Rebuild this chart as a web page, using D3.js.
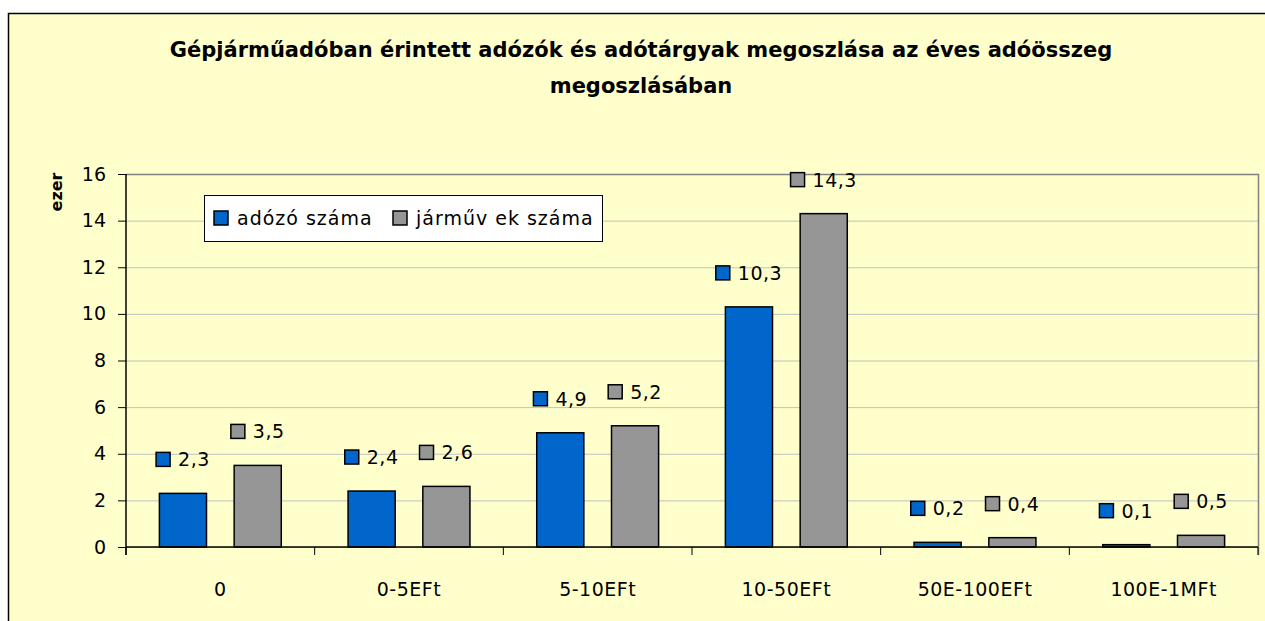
<!DOCTYPE html>
<html>
<head>
<meta charset="utf-8">
<script src="https://cdn.jsdelivr.net/npm/d3@7"></script>
<style>
  html, body { margin: 0; background: #fff; overflow: hidden; }
  svg { display: block; }
  svg text { font-family: "DejaVu Sans", sans-serif; fill: #000; }
</style>
</head>
<body>
<div id="chart"></div>
<script>
////////////////////////////////////////////////////////////
//////////////////////// Data //////////////////////////////
////////////////////////////////////////////////////////////
var categories = ["0", "0-5EFt", "5-10EFt", "10-50EFt", "50E-100EFt", "100E-1MFt"];
var seriesNames = ["adózó száma", "járműv ek száma"];
var adozoSzama = [2.3, 2.4, 4.9, 10.3, 0.2, 0.1];
var jarmuvekSzama = [3.5, 2.6, 5.2, 14.3, 0.4, 0.5];
var yTicks = [0, 2, 4, 6, 8, 10, 12, 14, 16];
var seriesColors = ["#0066CC", "#969696"];

var titleLines = ["Gépjárműadóban érintett adózók és adótárgyak megoszlása az éves adóösszeg", "megoszlásában"];

////////////////////////////////////////////////////////////
//////////////////////// SVG ///////////////////////////////
////////////////////////////////////////////////////////////
var W = 1265, H = 621;
var plot = { left: 126, right: 1258, top: 174, bottom: 547 };

var svg = d3.select("#chart").append("svg")
  .attr("width", W).attr("height", H);

//outer chart area (only top and left edges are visible)
svg.append("rect")
  .attr("x", 8.5).attr("y", 13.5)
  .attr("width", W).attr("height", H)
  .style("fill", "#FFFFCC");
svg.append("path")
  .attr("d", "M8.5," + H + "V13.5H" + W)
  .style("fill", "none")
  .style("stroke", "#000").style("stroke-width", 1.5);

//title
svg.selectAll(".title")
  .data(titleLines)
  .enter().append("text")
  .attr("class", "title")
  .attr("x", 641)
  .attr("y", function(d, i) { return 57 + i * 36; })
  .attr("text-anchor", "middle")
  .style("font-weight", "bold")
  .style("font-size", "21px")
  .text(function(d) { return d; });

////////////////////////////////////////////////////////////
//////////////////////// Scales ////////////////////////////
////////////////////////////////////////////////////////////
var x0 = d3.scaleBand()
  .domain(categories)
  .range([plot.left, plot.right]);

var bw = x0.bandwidth();
var x1 = d3.scaleBand()
  .domain(seriesNames)
  .range([0.177 * bw, 0.823 * bw])
  .paddingInner(0.37);

var y = d3.scaleLinear()
  .domain([0, 16])
  .range([plot.bottom, plot.top]);

var color = d3.scaleOrdinal().domain(seriesNames).range(seriesColors);

var huFormat = d3.formatLocale({ decimal: ",", thousands: " ", grouping: [3], currency: ["", " Ft"] }).format(".1f");

////////////////////////////////////////////////////////////
//////////////////////// Grid & axes ///////////////////////
////////////////////////////////////////////////////////////
svg.append("g")
  .attr("class", "grid")
  .attr("transform", "translate(" + plot.left + ",0)")
  .call(d3.axisLeft(y).tickValues(yTicks).tickSize(-(plot.right - plot.left)).tickFormat(""))
  .call(function(g) {
    g.select(".domain").remove();
    g.selectAll("line").style("stroke", "#C0C0C0").style("stroke-width", 1);
  });

//plot border (top and right)
svg.append("path")
  .attr("d", "M" + plot.left + "," + (plot.top + 0.5) + "H" + (plot.right + 0.5) + "V" + (plot.bottom + 8))
  .style("fill", "none")
  .style("stroke", "#808080")
  .style("stroke-width", 1.5);

////////////////////////////////////////////////////////////
//////////////////////// Bars //////////////////////////////
////////////////////////////////////////////////////////////
var rows = categories.map(function(c, i) {
  return { cat: c, values: [
    { key: seriesNames[0], value: adozoSzama[i] },
    { key: seriesNames[1], value: jarmuvekSzama[i] }
  ] };
});

var groups = svg.selectAll(".cat-group")
  .data(rows)
  .enter().append("g")
  .attr("class", "cat-group")
  .attr("transform", function(d) { return "translate(" + x0(d.cat) + ",0)"; });

groups.selectAll(".bar")
  .data(function(d) { return d.values; })
  .enter().append("rect")
  .attr("class", "bar")
  .attr("x", function(d) { return x1(d.key); })
  .attr("y", function(d) { return y(d.value); })
  .attr("width", x1.bandwidth())
  .attr("height", function(d) { return y(0) - y(d.value); })
  .style("fill", function(d) { return color(d.key); })
  .style("stroke", "#000")
  .style("stroke-width", 1.5);

//data labels: legend key + value, centered above the bar
var labels = groups.selectAll(".data-label")
  .data(function(d) { return d.values; })
  .enter().append("g")
  .attr("class", "data-label")
  .attr("transform", function(d) {
    return "translate(" + (x1(d.key) + x1.bandwidth() / 2) + "," + (y(d.value) - 34) + ")";
  });

labels.append("text")
  .attr("y", 7)
  .style("font-size", "19px")
  .style("letter-spacing", "0.5px")
  .text(function(d) { return huFormat(d.value); })
  .each(function() {
    var w = this.getComputedTextLength();
    var total = 14 + 8 + w;
    d3.select(this).attr("x", -total / 2 + 22);
    d3.select(this.parentNode).insert("rect", "text")
      .attr("x", -total / 2)
      .attr("y", -7)
      .attr("width", 14).attr("height", 14);
  });

labels.select("rect")
  .style("fill", function(d) { return color(d.key); })
  .style("stroke", "#000")
  .style("stroke-width", 1.5);

//y axis
svg.append("g")
  .attr("class", "y-axis")
  .attr("transform", "translate(" + plot.left + ",0)")
  .call(d3.axisLeft(y).tickValues(yTicks).tickSize(8).tickPadding(12).tickFormat(d3.format("d")))
  .call(function(g) {
    g.select(".domain").attr("d", "M0," + plot.top + "V" + (plot.bottom + 8)).style("stroke", "#000").style("stroke-width", 1.5);
    g.selectAll("line").style("stroke", "#000");
    g.selectAll("text").style("font-size", "19px").style("font-family", "DejaVu Sans, sans-serif").style("fill", "#000");
  });

//x axis: ticks at category boundaries, labels centered
svg.append("line")
  .attr("x1", plot.left).attr("x2", plot.right)
  .attr("y1", plot.bottom).attr("y2", plot.bottom)
  .style("stroke", "#000").style("stroke-width", 1.5);

svg.selectAll(".x-tick")
  .data(categories.concat(["end"]))
  .enter().append("line")
  .attr("class", "x-tick")
  .attr("x1", function(d, i) { return plot.left + i * bw; })
  .attr("x2", function(d, i) { return plot.left + i * bw; })
  .attr("y1", plot.bottom).attr("y2", plot.bottom + 8)
  .style("stroke", "#000");

svg.selectAll(".x-label")
  .data(categories)
  .enter().append("text")
  .attr("class", "x-label")
  .attr("x", function(d) { return x0(d) + bw / 2; })
  .attr("y", 596)
  .attr("text-anchor", "middle")
  .style("font-size", "19px")
  .style("letter-spacing", "0.5px")
  .text(function(d) { return d; });

//y axis title
svg.append("text")
  .attr("transform", "translate(62,192) rotate(-90)")
  .attr("text-anchor", "middle")
  .style("font-weight", "bold")
  .style("font-size", "16px")
  .text("ezer");

////////////////////////////////////////////////////////////
//////////////////////// Legend ////////////////////////////
////////////////////////////////////////////////////////////
var legend = svg.append("g")
  .attr("class", "legend")
  .attr("transform", "translate(204,195)");

legend.append("rect")
  .attr("x", 0.5).attr("y", 0.5)
  .attr("width", 398).attr("height", 46)
  .style("fill", "#fff")
  .style("stroke", "#000");

var legendX = [10, 189];
var legendItem = legend.selectAll(".legend-item")
  .data(seriesNames)
  .enter().append("g")
  .attr("class", "legend-item")
  .attr("transform", function(d, i) { return "translate(" + legendX[i] + ",23)"; });

legendItem.append("rect")
  .attr("x", 0).attr("y", -7)
  .attr("width", 14).attr("height", 14)
  .style("fill", function(d) { return color(d); })
  .style("stroke", "#000").style("stroke-width", 1.5);

legendItem.append("text")
  .attr("x", 23).attr("y", 7)
  .style("font-size", "19px")
  .style("letter-spacing", "1px")
  .text(function(d) { return d; });
</script>
</body>
</html>
